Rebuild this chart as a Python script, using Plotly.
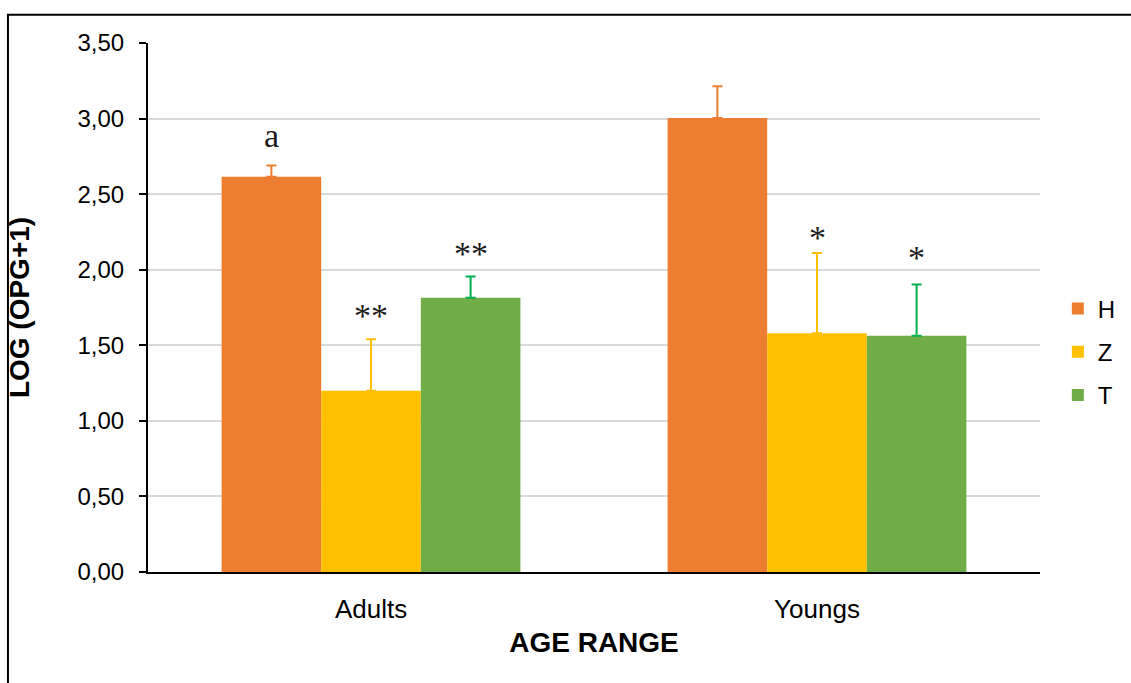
import plotly.graph_objects as go

categories = ["Adults", "Youngs"]
series_names = ["H", "Z", "T"]
H_values = [2.615, 3.004]
Z_values = [1.20, 1.58]
T_values = [1.815, 1.563]
H_err = [0.075, 0.21]
Z_err = [0.34, 0.53]
T_err = [0.14, 0.34]
H_sig = ["a", ""]
Z_sig = ["**", "*"]
T_sig = ["**", "*"]
y_ticks = [0, 0.5, 1.0, 1.5, 2.0, 2.5, 3.0, 3.5]

bar_colors = {"H": "#ED7D31", "Z": "#FFC000", "T": "#70AD47"}
err_colors = {"H": "#ED7D31", "Z": "#FFC000", "T": "#00B050"}
values = {"H": H_values, "Z": Z_values, "T": T_values}
errors = {"H": H_err, "Z": Z_err, "T": T_err}
sigs = {"H": H_sig, "Z": Z_sig, "T": T_sig}
sig_shift = {"H": [9, 0], "Z": [3, -5], "T": [3, 6]}

bargap = 0.33
bar_w = (1 - bargap) / 3

fig = go.Figure()
for s in series_names:
    fig.add_trace(go.Bar(
        name=s, x=categories, y=values[s],
        marker=dict(color=bar_colors[s], line=dict(width=0)),
        error_y=dict(type="data", array=errors[s], arrayminus=[0] * len(categories),
                     symmetric=False, color=err_colors[s], thickness=2, width=5),
        legendgroup=s,
    ))

annotations = []
for j, s in enumerate(series_names):
    for i, c in enumerate(categories):
        if sigs[s][i]:
            annotations.append(dict(
                x=i + (j - 1) * bar_w, y=values[s][i] + errors[s][i],
                xref="x", yref="y", text=sigs[s][i], showarrow=False,
                yanchor="bottom", yshift=sig_shift[s][i],
                font=dict(family="Liberation Serif, Times New Roman, serif", size=34, color="#1a1a1a"),
            ))

fig.update_layout(
    width=1131, height=683,
    margin=dict(l=148, r=91, t=43, b=111, autoexpand=False),
    paper_bgcolor="white", plot_bgcolor="white",
    barmode="group", bargap=bargap, bargroupgap=0,
    separators=",.",
    font=dict(family="Liberation Sans, Arial, sans-serif", color="#000000"),
    legend=dict(x=1.02, xanchor="left", y=0.416, yanchor="middle",
                font=dict(size=24, color="#000000"), tracegroupgap=9,
                bgcolor="rgba(0,0,0,0)"),
    annotations=annotations,
    shapes=[dict(type="rect", xref="paper", yref="paper",
                 x0=-0.157, x1=1.12, y0=-0.23, y1=1.0533,
                 line=dict(color="black", width=2), fillcolor="rgba(0,0,0,0)", layer="above")],
    showlegend=True,
)
fig.update_xaxes(
    type="category", showline=True, linecolor="black", linewidth=2,
    ticks="", tickfont=dict(size=26, color="#000000"), ticklabelstandoff=13,
    title=dict(text="<b>AGE RANGE</b>", font=dict(size=28, color="#000000"), standoff=9),
    showgrid=False, zeroline=False,
)
fig.update_yaxes(
    range=[0, 3.5], tickvals=y_ticks, tickformat=".2f",
    showline=True, linecolor="black", linewidth=2,
    ticks="outside", ticklen=7, tickwidth=2, tickcolor="black",
    tickfont=dict(size=24, color="#000000"), ticklabelstandoff=10,
    showgrid=True, gridcolor="#D9D9D9", gridwidth=1.5, zeroline=False,
    title=dict(text="<b>LOG (OPG+1)</b>", font=dict(size=28, color="#000000"), standoff=40),
)

fig.write_html("out.html", config={"displayModeBar": False},
               post_script="document.body.style.margin='0';document.body.style.padding='0';")
